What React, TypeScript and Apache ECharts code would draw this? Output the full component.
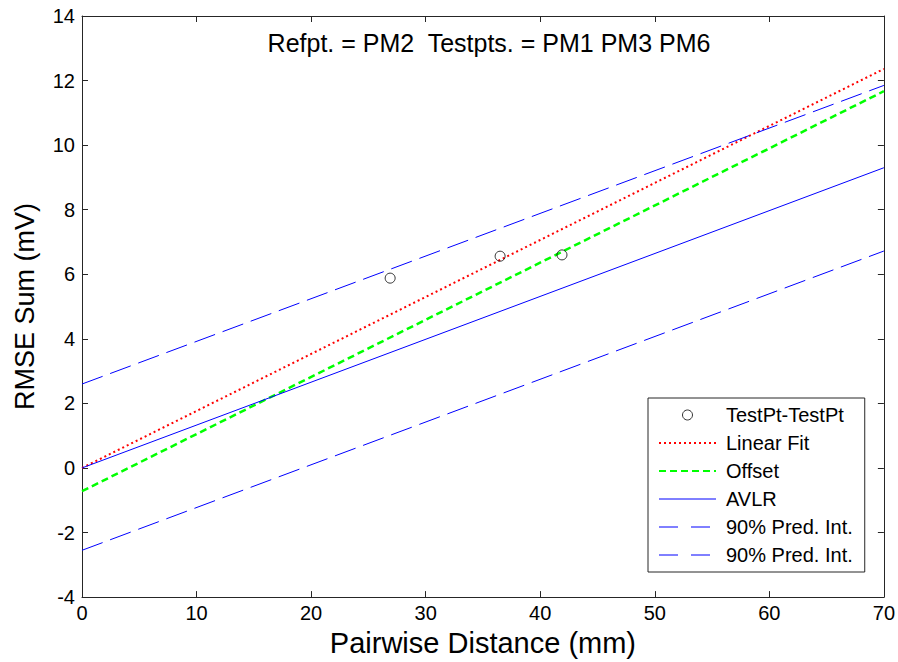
import React, { useEffect, useRef } from "react";
import * as echarts from "echarts";

// Data
const xEnds = [0, 70];
const linearFit = [0.0, 12.36];
const offsetLine = [-0.72, 11.67];
const avlr = [0.0, 9.3];
const predUpper = [2.6, 11.85];
const predLower = [-2.55, 6.72];
const testX = [26.9, 36.5, 41.9];
const testY = [5.88, 6.56, 6.6];

const titleText = "Refpt. = PM2  Testpts. = PM1 PM3 PM6";
const xName = "Pairwise Distance (mm)";
const yName = "RMSE Sum (mV)";
const predLabel = "90% Pred. Int.";

const FONT = "Liberation Sans, Arial, sans-serif";

const pairs = (ys: number[]) => xEnds.map((x, i) => [x, ys[i]]);

export default function App() {
  const ref = useRef<HTMLDivElement>(null);
  useEffect(() => {
    if (!ref.current) return;
    const chart = echarts.init(ref.current, undefined, { renderer: "svg" });
    const axisLine = { show: true, onZero: false, lineStyle: { color: "#262626", width: 1 } };
    const tick = { show: true, inside: true, length: 6, lineStyle: { color: "#262626" } };
    const hideSym = { opacity: 0 };
    const predLegendLine = { type: [19, 13], width: 1, color: "#0000ff" };
    chart.setOption({
      animation: false,
      backgroundColor: "#ffffff",
      textStyle: { fontFamily: FONT },
      title: {
        text: titleText,
        left: 484,
        textAlign: "center",
        top: 25,
        textStyle: { fontFamily: FONT, fontSize: 25, fontWeight: "normal", color: "#000" },
      },
      grid: { left: 82, right: 14, top: 16, bottom: 62, containLabel: false },
      xAxis: [
        {
          type: "value",
          min: 0,
          max: 70,
          interval: 10,
          name: xName,
          nameLocation: "middle",
          nameGap: 29,
          nameTextStyle: { fontFamily: FONT, fontSize: 29, color: "#000" },
          axisLine,
          axisTick: tick,
          axisLabel: { fontFamily: FONT, fontSize: 20, color: "#000", margin: 6 },
          splitLine: { show: false },
        },
        {
          type: "value",
          position: "top",
          min: 0,
          max: 70,
          interval: 10,
          axisLine,
          axisTick: tick,
          axisLabel: { show: false },
          splitLine: { show: false },
        },
      ],
      yAxis: [
        {
          type: "value",
          min: -4,
          max: 14,
          interval: 2,
          name: yName,
          nameLocation: "middle",
          nameGap: 44,
          nameTextStyle: { fontFamily: FONT, fontSize: 27, color: "#000" },
          axisLine,
          axisTick: tick,
          axisLabel: { fontFamily: FONT, fontSize: 20, color: "#000", margin: 7 },
          splitLine: { show: false },
        },
        {
          type: "value",
          position: "right",
          min: -4,
          max: 14,
          interval: 2,
          axisLine,
          axisTick: tick,
          axisLabel: { show: false },
          splitLine: { show: false },
        },
      ],
      legend: {
        orient: "vertical",
        left: 648,
        top: 398,
        padding: [7, 12, 7, 10],
        itemWidth: 57,
        itemHeight: 10,
        itemGap: 8,
        backgroundColor: "#ffffff",
        borderColor: "#262626",
        borderWidth: 1,
        formatter: (name: string) => (name.startsWith("90%") ? predLabel : name),
        textStyle: { fontFamily: FONT, fontSize: 20, lineHeight: 20, color: "#000", padding: [0, 0, 0, 5] },
        data: [
          { name: "TestPt-TestPt", icon: "circle", itemStyle: { color: "#ffffff", borderColor: "#000", borderWidth: 1 } },
          { name: "Linear Fit", itemStyle: hideSym },
          { name: "Offset", itemStyle: hideSym },
          { name: "AVLR", itemStyle: hideSym, lineStyle: { width: 1, color: "#0000ff", type: "solid" } },
          { name: "90% Pred. Int. upper", itemStyle: hideSym, lineStyle: predLegendLine },
          { name: "90% Pred. Int. lower", itemStyle: hideSym, lineStyle: predLegendLine },
        ],
      },
      series: [
        {
          name: "TestPt-TestPt",
          type: "scatter",
          data: testX.map((x, i) => [x, testY[i]]),
          symbol: "circle",
          symbolSize: 10,
          itemStyle: { color: "rgba(255,255,255,0)", borderColor: "#000", borderWidth: 1 },
          z: 5,
        },
        {
          name: "Linear Fit",
          type: "line",
          data: pairs(linearFit),
          symbol: "none",
          lineStyle: { color: "#ff0000", width: 2, type: [2, 3] },
          itemStyle: { color: "#ff0000" },
        },
        {
          name: "Offset",
          type: "line",
          data: pairs(offsetLine),
          symbol: "none",
          lineStyle: { color: "#00ff00", width: 2.5, type: [7, 4] },
          itemStyle: { color: "#00ff00" },
        },
        {
          name: "AVLR",
          type: "line",
          data: pairs(avlr),
          symbol: "none",
          lineStyle: { color: "#0000ff", width: 1 },
          itemStyle: { color: "#0000ff" },
        },
        {
          name: "90% Pred. Int. upper",
          type: "line",
          data: pairs(predUpper),
          symbol: "none",
          lineStyle: { color: "#0000ff", width: 1, type: [22, 8] },
          itemStyle: { color: "#0000ff" },
        },
        {
          name: "90% Pred. Int. lower",
          type: "line",
          data: pairs(predLower),
          symbol: "none",
          lineStyle: { color: "#0000ff", width: 1, type: [22, 8] },
          itemStyle: { color: "#0000ff" },
        },
      ],
    });
    return () => chart.dispose();
  }, []);
  return (
    <div
      ref={ref}
      style={{ position: "absolute", left: 0, top: 0, width: 898, height: 662 }}
    />
  );
}
